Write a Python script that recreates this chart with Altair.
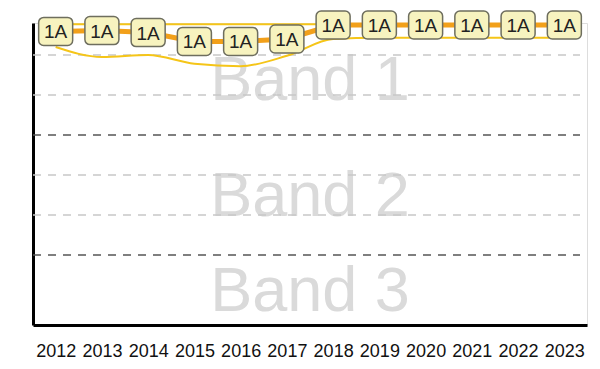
import altair as alt
import pandas as pd

# Yearly band positions (1 unit = one sub-band step; bands split at 0 and 3)
years = [str(y) for y in range(2012, 2024)]
rating = [5.59, 5.61, 5.56, 5.34, 5.34, 5.40, 5.75, 5.75, 5.75, 5.75, 5.75, 5.75]
labels = ["1A"] * 12
range_upper = [5.77, 5.77, 5.77, 5.77, 5.77, 5.77, 5.77, 5.77, 5.77, 5.77, 5.77, 5.77]
range_lower = [5.20, 4.95, 5.00, 4.78, 4.72, 4.98, 5.40, 5.43, 5.43, 5.43, 5.43, 5.43]

# Band names and their vertical extents
band_names = ["Band 1", "Band 2", "Band 3"]
band_low = [3.0, 0.0, -1.75]
band_high = [5.8, 3.0, 0.0]

# Horizontal guide lines: band boundaries (dark) and sub-band steps (light)
grid_values = [5, 4, 3, 2, 1, 0]
grid_kind = ["minor", "minor", "major", "minor", "minor", "major"]

Y_DOMAIN = [-1.75, 5.8]

df = pd.DataFrame({"year": years, "rating": rating, "label": labels,
                   "upper": range_upper, "lower": range_lower})
bands = pd.DataFrame({"band": band_names, "low": band_low, "high": band_high})
bands["mid"] = (bands["low"] + bands["high"]) / 2
grid = pd.DataFrame({"value": grid_values, "kind": grid_kind})

x_enc = alt.X("year:O", title=None,
              scale=alt.Scale(type="point", padding=0.49),
              axis=alt.Axis(domain=True, domainColor="#000000", domainWidth=3,
                            ticks=False, labelAngle=0, labelFontSize=18,
                            labelFont="Liberation Sans",
                            labelColor="#111111", labelPadding=17, labelBaseline="top",
                            grid=False))
y_scale = alt.Scale(domain=Y_DOMAIN, nice=False, zero=False)

band_text = alt.Chart(bands).mark_text(
    font="Liberation Sans", fontSize=63, color="#DADADA",
    baseline="middle", align="center", dy=2
).encode(
    x=alt.value(277),
    y=alt.Y("mid:Q", scale=y_scale, title=None,
            axis=alt.Axis(domain=True, domainColor="#000000", domainWidth=3,
                          ticks=False, labels=False, grid=False)),
    text="band:N",
)

grid_rules = alt.Chart(grid).mark_rule(strokeDash=[8, 7], strokeWidth=1.3).encode(
    y=alt.Y("value:Q", scale=y_scale),
    x=alt.value(0), x2=alt.value(547),
    color=alt.Color("kind:N", scale=alt.Scale(domain=["major", "minor"],
                                               range=["#555555", "#C8C8C8"]),
                    legend=None),
)

upper_line = alt.Chart(df).mark_line(color="#F5C518", strokeWidth=2,
                                     interpolate="monotone").encode(
    x=x_enc, y=alt.Y("upper:Q", scale=y_scale))
lower_line = alt.Chart(df).mark_line(color="#F5C518", strokeWidth=2,
                                     interpolate="monotone").encode(
    x=x_enc, y=alt.Y("lower:Q", scale=y_scale))

main_line = alt.Chart(df).mark_line(color="#F2A01A", strokeWidth=5).encode(
    x=x_enc, y=alt.Y("rating:Q", scale=y_scale))

boxes = alt.Chart(df).mark_rect(width=34, height=28, cornerRadius=5,
                                fill="#F7F3BF", stroke="#6E6E5E",
                                strokeWidth=1.5).encode(
    x=x_enc, y=alt.Y("rating:Q", scale=y_scale))

box_text = alt.Chart(df).mark_text(font="Liberation Sans", fontSize=19,
                                   color="#222222", baseline="middle",
                                   align="center", dy=1).encode(
    x=x_enc, y=alt.Y("rating:Q", scale=y_scale), text="label:N")

chart = alt.layer(
    band_text, grid_rules, upper_line, lower_line, main_line, boxes, box_text
).properties(
    width=554, height=302,
    autosize=alt.AutoSizeParams(type="none"),
    padding={"left": 33, "top": 23, "right": 13, "bottom": 44},
).configure_view(stroke=None).configure(background="#FFFFFF")

chart.save("out.html", embed_options={"renderer": "svg", "actions": False})
